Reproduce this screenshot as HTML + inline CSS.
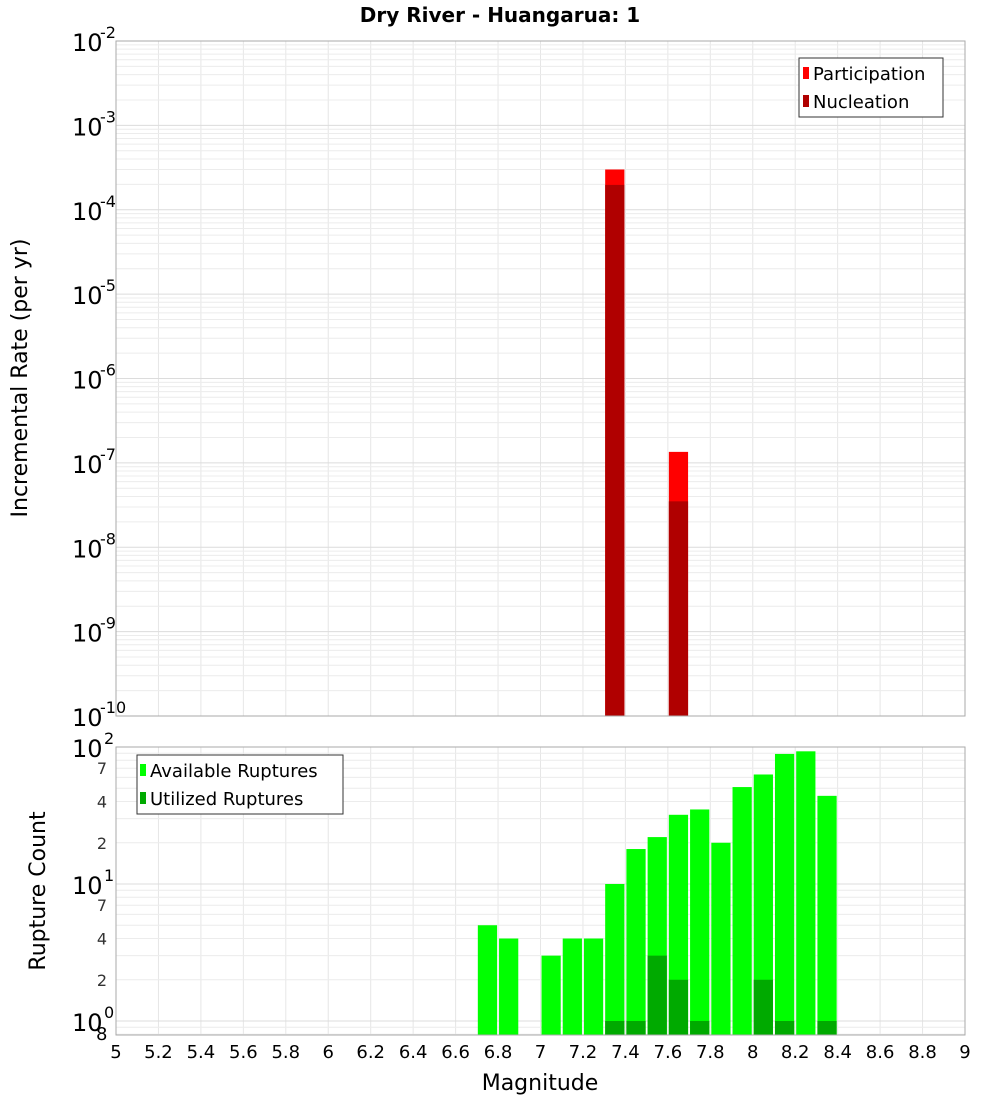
<!DOCTYPE html>
<html><head><meta charset="utf-8"><style>
body{margin:0;background:#fff;}
svg text{font-family:"DejaVu Sans","Liberation Sans",sans-serif;}
</style></head><body>
<svg id="c" width="1000" height="1100" xmlns="http://www.w3.org/2000/svg">
<text x="500" y="22" text-anchor="middle" font-size="20" font-weight="bold">Dry River - Huangarua: 1</text>
<text transform="translate(27,378) rotate(-90)" text-anchor="middle" font-size="22">Incremental Rate (per yr)</text>
<text transform="translate(45,891) rotate(-90)" text-anchor="middle" font-size="22">Rupture Count</text>
<text x="540" y="1090" text-anchor="middle" font-size="22">Magnitude</text>
<g id="grid"></g><g id="bars"></g><g id="axes"></g>
<g>
<rect x="799" y="58" width="144" height="59" fill="#fff" stroke="#333"/>
<rect x="803" y="67" width="6" height="12" fill="#ff0000"/><text x="813" y="80" font-size="18">Participation</text>
<rect x="803" y="95" width="6" height="12" fill="#b00000"/><text x="813" y="108" font-size="18">Nucleation</text>
</g>
<g>
<rect x="137" y="755" width="206" height="59" fill="#fff" stroke="#333"/>
<rect x="140" y="764" width="6" height="12" fill="#00ff00"/><text x="150" y="777" font-size="18">Available Ruptures</text>
<rect x="140" y="792" width="6" height="12" fill="#00aa00"/><text x="150" y="805" font-size="18">Utilized Ruptures</text>
</g>
</svg>
<script>
const magBins=[6.7,6.8,7.0,7.1,7.2,7.3,7.4,7.5,7.6,7.7,7.8,7.9,8.0,8.1,8.2,8.3];
const availableCounts=[5,4,3,4,4,10,18,22,32,35,20,51,63,89,93,44];
const utilizedBins=[7.3,7.4,7.5,7.6,7.7,8.0,8.1,8.3];
const utilizedCounts=[1,1,3,2,1,2,1,1];
const rateBins=[7.3,7.6];
const participationRates=[3.0e-4,1.35e-7];
const nucleationRates=[1.97e-4,3.5e-8];
const xTicks=[5,5.2,5.4,5.6,5.8,6,6.2,6.4,6.6,6.8,7,7.2,7.4,7.6,7.8,8,8.2,8.4,8.6,8.8,9];
const topDecades=[-10,-9,-8,-7,-6,-5,-4,-3,-2];
const NS='http://www.w3.org/2000/svg';
const X0=116,X1=965;
const x=m=>X0+(m-5)/4*(X1-X0);
const T0=41,T1=716;
const yT=v=>T1-(Math.log10(v)+10)/8*(T1-T0);
const B0=747,B1=1035,BD=137;
const yB=v=>B0+(2-Math.log10(v))*BD;
function mk(g,tag,a,txt){const e=document.createElementNS(NS,tag);for(const k in a)e.setAttribute(k,a[k]);if(txt!=null)e.textContent=txt;document.getElementById(g).appendChild(e);return e;}
// grid
for(const t of xTicks){
 let l=mk('grid','line',{x1:x(t),x2:x(t),y1:T0,y2:T1,stroke:'#e6e6e6'});
 
 l=mk('grid','line',{x1:x(t),x2:x(t),y1:B0,y2:B1,stroke:'#e6e6e6'});
 
}
for(let d=-10;d<-2;d++)for(let k=1;k<10;k++){const y=yT(k*Math.pow(10,d));
 const l=mk('grid','line',{x1:X0,x2:X1,y1:y,y2:y,stroke:k==1?'#dcdcdc':'#ececec'});
 }
for(let d=-1;d<2;d++)for(let k=1;k<10;k++){const v=k*Math.pow(10,d);const y=yB(v);if(y>B1||y<B0)continue;
 const l=mk('grid','line',{x1:X0,x2:X1,y1:y,y2:y,stroke:k==1?'#dcdcdc':'#ececec'});
 }
// bars
function bar(m,v,yf,base,col,name){const y=yf(v);const r=mk('bars','rect',{x:x(m)+1,y:y,width:x(m+0.1)-x(m)-2,height:base-y,fill:col});
 }
participationRates.forEach((v,i)=>bar(rateBins[i],v,yT,T1,'#ff0000','participation-bar'));
nucleationRates.forEach((v,i)=>bar(rateBins[i],v,yT,T1,'#b00000','nucleation-bar'));
availableCounts.forEach((v,i)=>bar(magBins[i],v,yB,B1,'#00ff00','available-bar'));
utilizedCounts.forEach((v,i)=>bar(utilizedBins[i],v,yB,B1,'#00aa00','utilized-bar'));
// axes frames
let f=mk('axes','rect',{x:X0,y:T0,width:X1-X0,height:T1-T0,fill:'none',stroke:'#aaa'});

f=mk('axes','rect',{x:X0,y:B0,width:X1-X0,height:B1-B0,fill:'none',stroke:'#aaa'});

for(const t of xTicks){const e=mk('axes','text',{x:x(t),y:1058,'text-anchor':'middle','font-size':18},String(t));
 }
for(const d of topDecades){const y=yT(Math.pow(10,d));
 const e=mk('axes','text',{x:72,y:y+10,'font-size':24},'10');
 
 const s=mk('axes','text',{x:100,y:y-3,'font-size':16},String(d));
 }
for(const d of [2,1,0]){const y=yB(Math.pow(10,d));
 const e=mk('axes','text',{x:72,y:y+10,'font-size':24},'10');
 
 const s=mk('axes','text',{x:104,y:y-3,'font-size':16},String(d));
 }
for(const d of [1,0])for(const k of [2,4,7]){const y=yB(k*Math.pow(10,d));
 const e=mk('axes','text',{x:107,y:y+6,'text-anchor':'end','font-size':16,fill:'#333'},String(k));
 }
const e8=mk('axes','text',{x:96,y:1040,'font-size':18},'8');


</script>
</body></html>
